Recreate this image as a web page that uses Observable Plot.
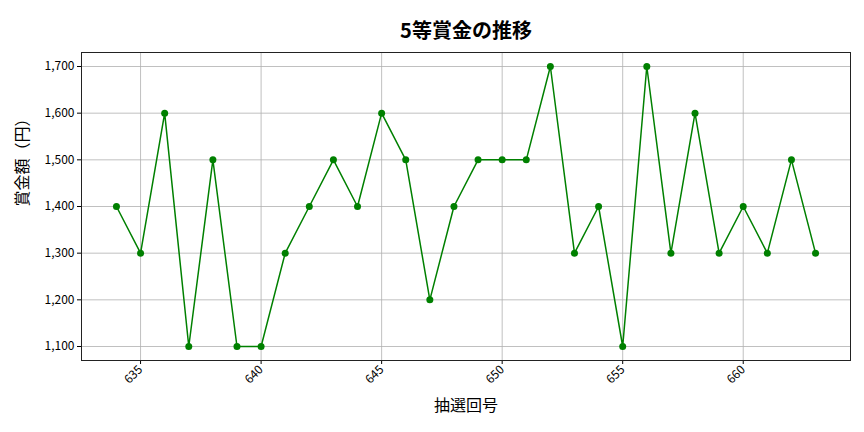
<!DOCTYPE html>
<html>
<head>
<meta charset="utf-8">
<script src="https://cdn.jsdelivr.net/npm/d3@7"></script>
<script src="https://cdn.jsdelivr.net/npm/@observablehq/plot@0.6"></script>
<style>
body { margin: 0; background: #fff; }
</style>
</head>
<body>
<div id="chart"></div>
<script>
const draws = [634,635,636,637,638,639,640,641,642,643,644,645,646,647,648,649,650,651,652,653,654,655,656,657,658,659,660,661,662,663];
const prizes = [1400,1300,1600,1100,1500,1100,1100,1300,1400,1500,1400,1600,1500,1200,1400,1500,1500,1500,1700,1300,1400,1100,1700,1300,1600,1300,1400,1300,1500,1300];
const xTicks = [635,640,645,650,655,660];
const yTicks = [1100,1200,1300,1400,1500,1600,1700];
const title = "5等賞金の推移";
const xLabel = "抽選回号";
const yLabel = "賞金額（円）";

const data = draws.map((d, i) => ({draw: d, prize: prizes[i]}));
const font = "'Noto Sans CJK JP', 'Noto Sans', sans-serif";

const chart = Plot.plot({
  width: 864,
  height: 432,
  marginTop: 52,
  marginBottom: 72,
  marginLeft: 81,
  marginRight: 14,
  style: {fontFamily: font, fontSize: "12px", color: "#000", background: "#fff"},
  x: {domain: [632.55, 664.45], ticks: xTicks, label: null},
  y: {domain: [1070, 1730], ticks: yTicks, label: null, tickFormat: d3.format(",")},
  marks: [
    Plot.gridX(xTicks, {stroke: "#b0b0b0", strokeOpacity: 1, strokeWidth: 0.8}),
    Plot.gridY(yTicks, {stroke: "#b0b0b0", strokeOpacity: 1, strokeWidth: 0.8}),
    Plot.axisX(xTicks, {tickRotate: -45, tickSize: 4, tickPadding: 3, fontSize: 12, label: null}),
    Plot.axisY(yTicks, {tickSize: 4, tickPadding: 3, fontSize: 12, label: null, tickFormat: d3.format(",")}),
    Plot.frame({stroke: "#222", strokeWidth: 1}),
    Plot.line(data, {x: "draw", y: "prize", stroke: "#008000", strokeWidth: 1.5}),
    Plot.dot(data, {x: "draw", y: "prize", fill: "#008000", r: 3.5}),
    Plot.text([title], {frameAnchor: "top", dy: -29, text: d => d, fontSize: 20, fontWeight: "bold", fill: "#000"}),
    Plot.text([xLabel], {frameAnchor: "bottom", dy: 50, text: d => d, fontSize: 16, fill: "#000"}),
    Plot.text([yLabel], {frameAnchor: "left", dx: -59, rotate: -90, text: d => d, fontSize: 16, fill: "#000"})
  ]
});
document.getElementById("chart").appendChild(chart);
</script>
</body>
</html>
